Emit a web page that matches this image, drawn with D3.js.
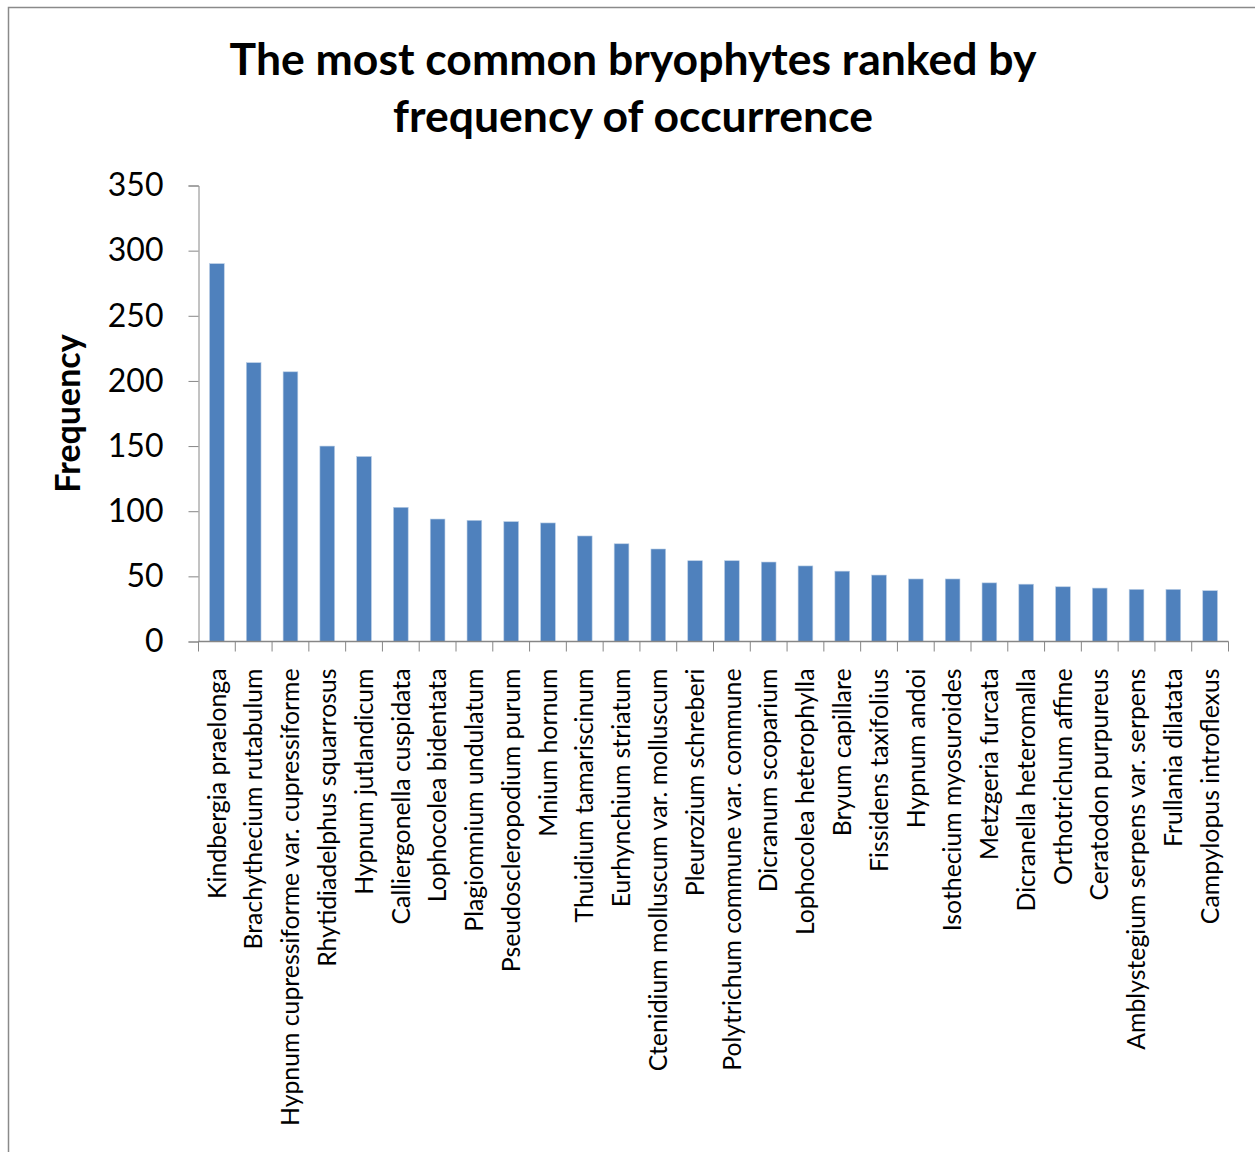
<!DOCTYPE html>
<html>
<head>
<meta charset="utf-8">
<script src="https://cdn.jsdelivr.net/npm/d3@7"></script>
<style>
  body { margin:0; background:#fff; }
  svg text { font-family: Lato, "Open Sans", sans-serif; fill:#000; }
</style>
</head>
<body>
<svg id="chart" width="1255" height="1152"></svg>
<script>
// species, in rank order
var species = [
  "Kindbergia praelonga", "Brachythecium rutabulum", "Hypnum cupressiforme var. cupressiforme",
  "Rhytidiadelphus squarrosus", "Hypnum jutlandicum", "Calliergonella cuspidata",
  "Lophocolea bidentata", "Plagiomnium undulatum", "Pseudoscleropodium purum",
  "Mnium hornum", "Thuidium tamariscinum", "Eurhynchium striatum",
  "Ctenidium molluscum var. molluscum", "Pleurozium schreberi", "Polytrichum commune var. commune",
  "Dicranum scoparium", "Lophocolea heterophylla", "Bryum capillare",
  "Fissidens taxifolius", "Hypnum andoi", "Isothecium myosuroides",
  "Metzgeria furcata", "Dicranella heteromalla", "Orthotrichum affine",
  "Ceratodon purpureus", "Amblystegium serpens var. serpens", "Frullania dilatata",
  "Campylopus introflexus"
];
// frequency
var frequency = [290, 214, 207, 150, 142, 103, 94, 93, 92, 91, 81, 75, 71, 62, 62, 61, 58, 54, 51, 48, 48, 45, 44, 42, 41, 40, 40, 39];
var yTicks = [0, 50, 100, 150, 200, 250, 300, 350];
var titleLines = ["The most common bryophytes ranked by", "frequency of occurrence"];

var data = species.map(function(d,i){ return {name:d, value:frequency[i]}; });

var svg = d3.select("#chart");
var axisCol = "#868686";

// outer frame of the chart area (runs off the right/bottom)
svg.append("rect")
  .attr("x",8.5).attr("y",7.5).attr("width",1300).attr("height",1200)
  .attr("fill","none").attr("stroke","#8a8a8a").attr("stroke-width",1.5);

var plot = {left:198.5, right:1228.5, top:185.5, bottom:641.5};

var x = d3.scaleBand()
  .domain(species)
  .range([plot.left, plot.right])
  .paddingInner(0.6).paddingOuter(0.3);

var y = d3.scaleLinear()
  .domain([0, 350])
  .range([plot.bottom, plot.top]);

// title
svg.append("g").selectAll("text")
  .data(titleLines)
  .enter().append("text")
  .attr("x",633).attr("y",(d,i)=>75+i*57)
  .attr("text-anchor","middle")
  .style("font-size","44.5px").style("font-weight","bold")
  .text(d=>d);

// bars
svg.append("g").selectAll("rect")
  .data(data)
  .enter().append("rect")
  .attr("x",d=>x(d.name))
  .attr("width",x.bandwidth())
  .attr("y",d=>y(d.value))
  .attr("height",d=>y(0)-y(d.value))
  .attr("fill","#4f81bd")
  .attr("stroke","#b9cde5").attr("stroke-width",0.6);

// y axis
var yAxis = svg.append("g")
  .attr("transform","translate("+plot.left+",0)")
  .call(d3.axisLeft(y).tickValues(yTicks).tickSize(10).tickPadding(25).tickFormat(d3.format("d")));
yAxis.select(".domain").attr("stroke",axisCol);
yAxis.selectAll(".tick line").attr("stroke",axisCol);
yAxis.selectAll(".tick text").style("font-size","32px").attr("fill","#000");

// x axis: ticks sit between categories
var boundaries = d3.range(species.length+1).map(i=>plot.left + i*(plot.right-plot.left)/species.length);
var xg = svg.append("g");
xg.append("line")
  .attr("x1",plot.left).attr("x2",plot.right)
  .attr("y1",plot.bottom).attr("y2",plot.bottom)
  .attr("stroke",axisCol).attr("stroke-width",1.5);
xg.selectAll("line.tk")
  .data(boundaries)
  .enter().append("line")
  .attr("class","tk")
  .attr("x1",d=>d).attr("x2",d=>d)
  .attr("y1",plot.bottom).attr("y2",plot.bottom+10)
  .attr("stroke",axisCol);

xg.selectAll("text")
  .data(species)
  .enter().append("text")
  .attr("transform",d=>"translate("+(x(d)+x.bandwidth()/2)+","+(plot.bottom+27)+") rotate(-90)")
  .attr("dy","0.35em")
  .attr("text-anchor","end")
  .style("font-size","24.8px")
  .text(d=>d);

// y axis title
svg.append("text")
  .attr("transform","translate(68,"+((plot.top+plot.bottom)/2)+") rotate(-90)")
  .attr("dy","0.35em")
  .attr("text-anchor","middle")
  .style("font-size","34px").style("font-weight","bold")
  .text("Frequency");
</script>
</body>
</html>
